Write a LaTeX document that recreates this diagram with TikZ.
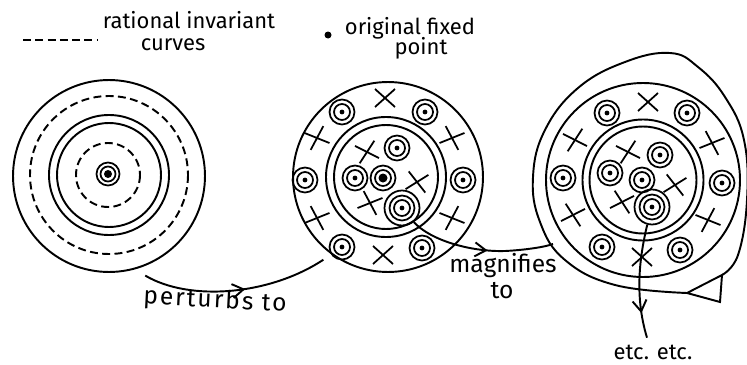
\documentclass[tikz,border=0pt]{standalone}
\usepackage{fontspec}
\setmainfont{Fira Sans}
\usetikzlibrary{arrows.meta,positioning,decorations.markings,calc}

\tikzset{
  pics/fixpt/.style={code={
    \draw[line width=1pt] (0,0) circle (12.5) (0,0) circle (8);
    \fill (0,0) circle (2.4);}},
  pics/cross/.style={code={
    \draw[line width=1pt] (-10,-9) -- (10,9) (-10,9) -- (10,-9);}},
  midarrow/.style={postaction={decorate}, decoration={markings,
    mark=at position #1 with {\arrow{Straight Barb[length=2.2mm,width=2.8mm]}}}},
  disk/.style={circle, draw, inner sep=0pt, outer sep=0.2cm},
  loopring/.style={circle, draw, line width=1pt, minimum size=0.7cm, inner sep=0pt},
  lbl/.style={inner sep=0pt, font=\fontsize{12.5}{14}\selectfont},
  rcurve/.style={dash pattern=on 4.5pt off 2.5pt},
}

\begin{document}
\begin{tikzpicture}[x=0.02cm, y=-0.02cm, line width=1.1pt]
  \useasboundingbox (0,0) rectangle (747,365);

  % Legend
  \draw[rcurve] (23,40) -- (98,40);
  \node[lbl] (rat) at (189,20) {rational invariant};
  \node[lbl] (cur) at (173,45) {curves};
  \fill (328,35) circle (3.5);
  \node[lbl] (orig) at (410,28) {original fixed};
  \node[lbl] (pnt) at (421,48) {point};

  % Left disk: the integrable map
  \node[disk, minimum size=3.84cm] (ldisk) at (109,176) {};
  \draw[rcurve] (109,175) circle (79) (108,175) circle (32);
  \draw (109,175) circle (60) (109,175) circle (52);
  \draw[line width=1pt] (108,174) circle (11.5) circle (7.5);
  \fill (108,174) circle (4);

  % Middle disk: the perturbed map
  \node[disk, minimum size=3.8cm] (mdisk) at (388,177) {};
  \draw (386,177) circle (60) (386,177) circle (52);
  \foreach \x/\y in {342/112, 425/112, 305/180, 463/180, 342/247, 422/248, 397/148, 355/178}
    \pic at (\x,\y) {fixpt};
  \foreach \x/\y/\r in {385/98/0, 317/138/20, 452/138/-20, 317/218/-20, 452/218/20,
                        383/255/0, 367/152/15, 417/182/-10, 370/203/-20}
    \pic[rotate=\r] at (\x,\y) {cross};
  \draw[line width=1pt] (383,178) circle (12.5) circle (8);
  \fill (383,178) circle (4.5);
  \pic at (402,208) {fixpt};
  \node[loopring] (mloop) at (402,208) {};

  % Right disk: the magnified picture
  \draw plot[smooth, tension=0.7] coordinates {(722,275) (738,255) (747,200) (744,140)
    (725,97) (698,67) (670,53) (625,62) (578,88) (545,130) (533,177) (540,222)
    (565,260) (615,285) (687,293)};
  \draw (687,293) -- (720,302) -- (722,275) -- cycle;
  \coordinate (blobin) at (553,244);
  \draw (643,180) circle (97) (643,180) circle (60.5) (643,180) circle (53.5);
  \foreach \x/\y in {607/113, 687/113, 563/178, 722/183, 602/247, 680/250, 660/155, 610/173, 642/180}
    \pic at (\x,\y) {fixpt};
  \foreach \x/\y/\r in {648/102/0, 575/140/15, 712/143/-20, 573/215/-15, 708/220/20,
                        642/257/0, 628/152/15, 675/185/-10, 622/202/-15}
    \pic[rotate=\r] at (\x,\y) {cross};
  \pic at (652,207) {fixpt};
  \node[loopring] (rloop) at (652,207) {};

  % Arrows
  \draw[midarrow=0.55] (ldisk.-70) .. controls (190,302) and (270,295) .. (mdisk.-128);
  \node[lbl, font=\fontsize{14}{16}\selectfont\addfontfeatures{LetterSpace=8}, rotate=-3] (pert) at (215,301) {perturbs to};
  \draw[midarrow=0.55] (mloop.-50) .. controls (430,240) and (470,252) .. (505,251)
    .. controls (525,250) and (545,247) .. (blobin);
  \node[lbl, font=\fontsize{14}{16}\selectfont] (mag) at (503,266) {magnifies};
  \node[lbl, font=\fontsize{14}{16}\selectfont] (magto) at (502,291) {to};
  \node[lbl] (etc) at (653,352) {etc. etc.};
  \draw[midarrow=0.78] (rloop.-105) .. controls (640,255) and (634,295) .. ($(etc.north)+(-6,-6)$);
\end{tikzpicture}
\end{document}
